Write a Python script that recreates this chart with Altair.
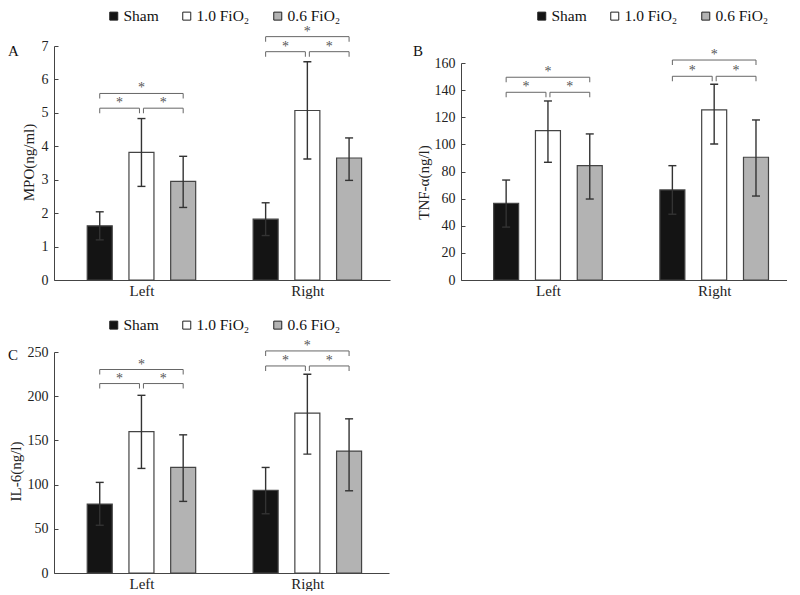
import altair as alt
import pandas as pd

FONT = "Liberation Serif"

groups = ["Left", "Right"]
series = ["Sham", "1.0 FiO₂", "0.6 FiO₂"]
fills = ["#141414", "#ffffff", "#b3b3b3"]
letters = ["A", "B", "C"]

# values in order: Left(Sham, 1.0, 0.6), Right(Sham, 1.0, 0.6)
mpo_mean = [1.62, 3.82, 2.95, 1.82, 5.07, 3.65]
mpo_lo = [1.20, 2.80, 2.17, 1.33, 3.62, 2.98]
mpo_hi = [2.04, 4.83, 3.70, 2.31, 6.53, 4.25]
mpo_brackets = [5.14, 5.58, 6.83, 7.28]  # left lower, left upper, right lower, right upper

tnf_mean = [56.5, 110.1, 84.3, 66.4, 125.4, 90.5]
tnf_lo = [39.0, 86.8, 59.7, 48.5, 100.3, 61.9]
tnf_hi = [73.7, 132.0, 107.7, 84.3, 144.3, 118.0]
tnf_brackets = [138.4, 149.5, 150.2, 162.2]

il6_mean = [78.0, 160.0, 119.4, 93.4, 180.8, 137.9]
il6_lo = [54.0, 118.3, 81.0, 67.0, 134.5, 93.0]
il6_hi = [102.5, 201.0, 156.3, 119.4, 224.9, 174.4]
il6_brackets = [214.3, 230.2, 234.2, 251.2]

OFF = 0.2515   # spacing of bars within a group (group units)
GAP = 0.012    # small gap where two brackets meet


def panel(letter, ytitle, means, los, his, brk, ymax, ystep, width, height, ytop, xdom,
          legx, legy, titlex, titley, labx, laby):
    rows = []
    for gi, g in enumerate(groups):
        for si, s in enumerate(series):
            k = gi * 3 + si
            rows.append(dict(group=g, series=s, x=gi + (si - 1) * OFF,
                             mean=means[k], lo=los[k], hi=his[k]))
    df = pd.DataFrame(rows)

    brows = []
    for gi in range(len(groups)):
        lower, upper = brk[gi * 2], brk[gi * 2 + 1]
        for a, b, lvl in [(0, 1, lower), (1, 2, lower), (0, 2, upper)]:
            x1 = gi + (a - 1) * OFF + (GAP if a == 1 else 0)
            x2 = gi + (b - 1) * OFF - (GAP if b == 1 else 0)
            brows.append(dict(x1=x1, x2=x2, xm=(x1 + x2) / 2, level=lvl, star="*"))
    bdf = pd.DataFrame(brows)

    xscale = alt.Scale(domain=xdom, nice=False, zero=False)
    yscale = alt.Scale(domain=[0, ymax], nice=False, range=[height, ytop])
    label_expr = "[" + ",".join("'" + g + "'" for g in groups) + "][datum.value]"
    yvals = list(range(0, int(ymax) + 1, ystep))

    xaxis = alt.Axis(values=list(range(len(groups))), labelExpr=label_expr, ticks=False,
                     grid=False, title=None, labelPadding=3, labelFontSize=15,
                     domainColor="#444", labelColor="#222", labelFont=FONT,
                     labelOverlap=False)
    yaxis = alt.Axis(values=yvals, tickCount=len(yvals), tickSize={"expr": "-4"},
                     labelPadding=10, grid=False, title=ytitle, titleX=titlex, titleY=titley,
                     titleAngle=-90, titleAlign="center", titleBaseline="middle",
                     titleFontWeight="normal", titleFontSize=15, titleFont=FONT,
                     titleColor="#222", labelFont=FONT, labelFontSize=14, labelColor="#222",
                     labelOverlap=False, labelFlush=False, domainColor="#444",
                     tickColor="#444")

    X = lambda f: alt.X(f, type="quantitative", scale=xscale, axis=xaxis)
    Y = lambda f: alt.Y(f, type="quantitative", scale=yscale, axis=yaxis)

    bars = alt.Chart(df).mark_bar(size=25, stroke="#444", strokeWidth=1.2, opacity=1).encode(
        x=X("x"),
        y=Y("mean"),
        color=alt.Color("series:N", scale=alt.Scale(domain=series, range=fills),
                        legend=alt.Legend(orient="none", legendX=legx, legendY=legy,
                                          direction="horizontal", title=None,
                                          symbolType="square", symbolSize=64,
                                          symbolStrokeColor="#222", symbolStrokeWidth=1,
                                          symbolOpacity=1, labelFont=FONT,
                                          labelFontSize=15.5, labelColor="#111",
                                          labelOffset=2, columnPadding=20, padding=0)),
    )
    err = alt.Chart(df).mark_rule(color="#333", strokeWidth=1.4, opacity=1).encode(
        x=X("x"), y=Y("lo"), y2="hi:Q")
    caps = alt.Chart(df).transform_fold(["lo", "hi"], as_=["k", "v"]).mark_tick(
        orient="horizontal", size=8, thickness=1.4, color="#333", opacity=1).encode(
        x=X("x"), y=Y("v"))

    hline = alt.Chart(bdf).mark_rule(color="#666", strokeWidth=1, opacity=1).encode(
        x=X("x1"), x2="x2:Q", y=Y("level"))
    ends = alt.Chart(bdf).transform_fold(["x1", "x2"], as_=["k", "v"]).mark_tick(
        orient="vertical", size=5, thickness=1, yOffset=2.5, color="#666", opacity=1).encode(
        x=X("v"), y=Y("level"))
    stars = alt.Chart(bdf).mark_text(dy=-1, baseline="alphabetic", fontSize=14,
                                     font=FONT, color="#555").encode(
        x=X("xm"), y=Y("level"), text="star:N")

    lab = alt.Chart(pd.DataFrame({"t": [letter]})).mark_text(
        align="left", baseline="middle", font=FONT, fontSize=15, color="#111").encode(
        x=alt.value(labx), y=alt.value(laby), text="t:N")

    return alt.layer(bars, err, caps, hline, ends, stars, lab).properties(
        width=width, height=height)


A = panel(letters[0], "MPO(ng/ml)", mpo_mean, mpo_lo, mpo_hi, mpo_brackets, 7, 1,
          336, 234, 0, [-0.497, 1.468], 52, -38, -25.5, 116, -46, 5)
B = panel(letters[1], "TNF-α(ng/l)", tnf_mean, tnf_lo, tnf_hi, tnf_brackets, 160, 20,
          326, 234, 17, [-0.493, 1.408], 73, -38, -37.5, 136, -48, 5)
C = panel(letters[2], "IL-6(ng/l)", il6_mean, il6_lo, il6_hi, il6_brackets, 250, 50,
          335, 221, 0, [-0.497, 1.462], 52, -35, -39, 119, -46, 3)

res = dict(x="independent", y="independent", color="independent")
top = alt.hconcat(A, B, spacing=23).resolve_scale(**res).resolve_legend(color="independent")
chart = alt.vconcat(top, C, spacing=19).resolve_scale(**res).resolve_legend(
    color="independent").properties(padding=0).configure_view(stroke=None)

chart.save("out.html", embed_options={"renderer": "svg", "actions": False})
